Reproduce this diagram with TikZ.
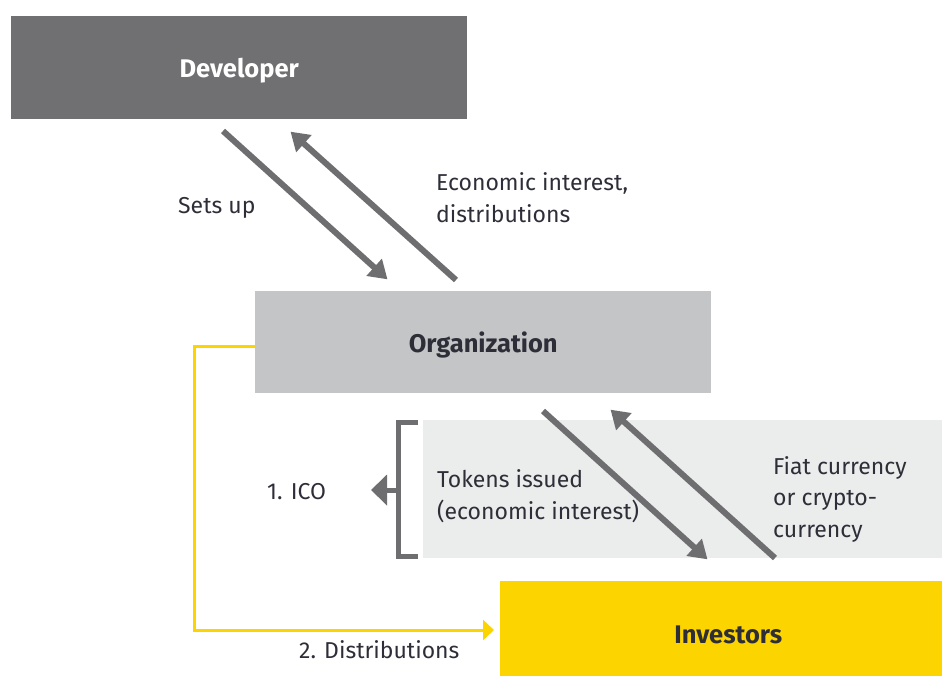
\documentclass[tikz,border=0pt]{standalone}
\usepackage{fontspec}
\setmainfont{Fira Sans}
\usetikzlibrary{arrows.meta}
\definecolor{devgrey}{HTML}{707072}
\definecolor{arrgrey}{HTML}{6E6E71}
\definecolor{orggrey}{HTML}{C4C5C7}
\definecolor{bandgrey}{HTML}{EBECEC}
\definecolor{eyyellow}{HTML}{FCD400}
\definecolor{txt}{HTML}{2E2E38}
\tikzset{
  box/.style={inner sep=0pt, anchor=north west, text height=20pt, text depth=0pt, font=\fontsize{25.5}{28}\selectfont\bfseries},
  lbl/.style={inner sep=0pt, anchor=base west, align=left, text=txt, font=\fontsize{23}{31.5}\selectfont},
  flow/.style={draw=arrgrey, line width=6pt, -{Triangle[length=18pt,width=22pt]}, shorten >=-2pt},
  yflow/.style={draw=eyyellow, line width=3pt, -{Triangle[length=11pt,width=20pt]}}
}
\begin{document}
\begin{tikzpicture}[x=1pt,y=-1pt]
\useasboundingbox (0,0) rectangle (942,675);
% boxes
\node[box, fill=devgrey, text=white, minimum width=456pt, minimum height=103pt] (dev) at (11,16) {Developer};
\node[box, fill=orggrey, text=txt, minimum width=456pt, minimum height=102pt] (org) at (255,291) {Organization};
\node[box, fill=bandgrey, minimum width=519pt, minimum height=138pt] (band) at (423,420) {};
\node[box, fill=eyyellow, text=txt, minimum width=456pt, minimum height=104pt] (inv) at (500,581) {Investors};
% diagonal arrows
\coordinate (a1s) at (223,131); \coordinate (a1e) at (386,278);
\coordinate (a2s) at (456,280); \coordinate (a2e) at (292,133);
\coordinate (a3s) at (543,411); \coordinate (a3e) at (706,558);
\coordinate (a4s) at (775,558); \coordinate (a4e) at (612,411);
\draw[flow] (a1s) -- (a1e);
\draw[flow] (a2s) -- (a2e);
\draw[flow] (a3s) -- (a3e);
\draw[flow] (a4s) -- (a4e);
% bracket
\coordinate (bt) at (418,422); \coordinate (bb) at (418,556);
\coordinate (bm) at (398,490); \coordinate (ico) at (371,490);
\draw[draw=arrgrey, line width=5pt] (bt) -| (398,556) -- (bb);
\draw[draw=arrgrey, line width=5pt, -{Triangle[length=16pt,width=30pt]}] (bm) -- (ico);
% yellow distributions line
\coordinate (y1) at (194,346); \coordinate (y2) at (194,630); \coordinate (y3) at (494,630);
\draw[yflow] (org.west |- y1) -- (y1) -- (y2) -- (y3);
% labels
\node[lbl] (l1) at (178,213) {Sets up};
\node[lbl] (l2) at (436,222) {Economic interest,\\distributions};
\node[lbl] (l3) at (437,519) {Tokens issued\\(economic interest)};
\node[lbl] (l4) at (773,537) {Fiat currency\\or crypto-\\currency};
\node[lbl] (l5) at (267,499) {1. ICO};
\node[lbl] (l6) at (299,658) {2. Distributions};
\end{tikzpicture}
\end{document}
